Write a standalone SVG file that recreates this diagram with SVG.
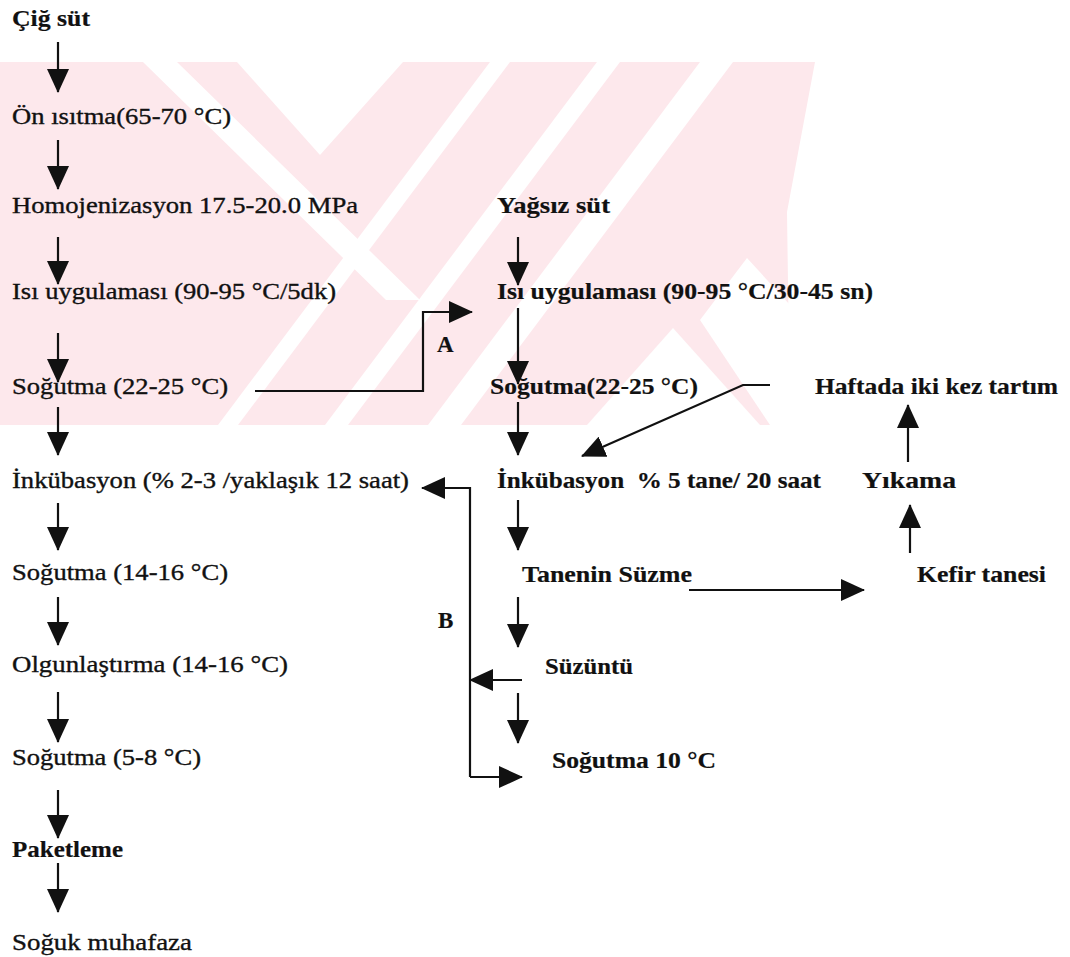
<svg xmlns="http://www.w3.org/2000/svg" width="1070" height="957" viewBox="0 0 1070 957">
<defs>
<style>
.t{font-family:"Liberation Serif","Times New Roman",serif;font-size:23px;fill:#111;stroke:#111;stroke-width:0.35}
.b{font-weight:bold;stroke-width:0.2}
.ln{fill:none;stroke:#111;stroke-width:2.2}
.wm{fill:#fde8ec}
.wh{fill:#ffffff}
</style>
<marker id="ah" markerUnits="userSpaceOnUse" markerWidth="24" markerHeight="22" viewBox="0 0 24 22" refX="23" refY="11" orient="auto">
<path d="M0,0 L24,11 L0,22 z" fill="#111"/>
</marker>
</defs>
<rect width="1070" height="957" fill="#fff"/>
<g id="watermark">
<polygon class="wm" points="0,62 815,62 787,212 790,425 0,425"/>
<polygon class="wh" points="143,62 177,62 420,300 386,300"/>
<polygon class="wh" points="237,62 403,62 320,155"/>
<polygon class="wh" points="490,62 510,62 238,425 218,425"/>
<polygon class="wh" points="597,62 620,62 348,425 325,425"/>
<polygon class="wh" points="700,62 733,62 461,425 428,425"/>
<polygon class="wh" points="673,328 760,425 587,425"/>
<polygon class="wh" points="747,258 790,305 790,425 770,425 700,320"/>
</g>
<g id="connectors">
<line class="ln" x1="58" y1="42" x2="58" y2="92" marker-end="url(#ah)"/>
<line class="ln" x1="58" y1="140" x2="58" y2="189" marker-end="url(#ah)"/>
<line class="ln" x1="58" y1="237" x2="58" y2="284" marker-end="url(#ah)"/>
<line class="ln" x1="58" y1="333" x2="58" y2="382" marker-end="url(#ah)"/>
<line class="ln" x1="58" y1="407" x2="58" y2="455" marker-end="url(#ah)"/>
<line class="ln" x1="58" y1="503" x2="58" y2="550" marker-end="url(#ah)"/>
<line class="ln" x1="58" y1="597" x2="58" y2="645" marker-end="url(#ah)"/>
<line class="ln" x1="58" y1="692" x2="58" y2="742" marker-end="url(#ah)"/>
<line class="ln" x1="58" y1="790" x2="58" y2="838" marker-end="url(#ah)"/>
<line class="ln" x1="58" y1="863" x2="58" y2="912" marker-end="url(#ah)"/>
<polyline class="ln" points="255,391 423,391 423,312 472,312" marker-end="url(#ah)"/>
<line class="ln" x1="518" y1="237" x2="518" y2="285" marker-end="url(#ah)"/>
<line class="ln" x1="518" y1="308" x2="518" y2="384" marker-end="url(#ah)"/>
<line class="ln" x1="518" y1="402" x2="518" y2="455" marker-end="url(#ah)"/>
<line class="ln" x1="518" y1="500" x2="518" y2="550" marker-end="url(#ah)"/>
<line class="ln" x1="518" y1="597" x2="518" y2="647" marker-end="url(#ah)"/>
<line class="ln" x1="518" y1="693" x2="518" y2="743" marker-end="url(#ah)"/>
<polyline class="ln" points="770,385 743,385 582,456" marker-end="url(#ah)"/>
<line class="ln" x1="908" y1="462" x2="908" y2="405" marker-end="url(#ah)"/>
<line class="ln" x1="910" y1="553" x2="910" y2="505" marker-end="url(#ah)"/>
<line class="ln" x1="689" y1="590" x2="864" y2="590" marker-end="url(#ah)"/>
<polyline class="ln" points="470,777 470,488 422,488" marker-end="url(#ah)"/>
<line class="ln" x1="470" y1="777" x2="522" y2="777" marker-end="url(#ah)"/>
<line class="ln" x1="522" y1="680" x2="470" y2="680" marker-end="url(#ah)"/>
</g>
<g id="n-cig"><text class="t b" x="12" y="26" textLength="78" lengthAdjust="spacingAndGlyphs">Çiğ süt</text></g>
<g id="n-on"><text class="t" x="12" y="124" textLength="219" lengthAdjust="spacingAndGlyphs">Ön ısıtma(65-70 °C)</text></g>
<g id="n-homo"><text class="t" x="12" y="213" textLength="346" lengthAdjust="spacingAndGlyphs">Homojenizasyon 17.5-20.0 MPa</text></g>
<g id="n-isi1"><text class="t" x="12" y="299" textLength="324" lengthAdjust="spacingAndGlyphs">Isı uygulaması (90-95 °C/5dk)</text></g>
<g id="n-sog1"><text class="t" x="12" y="394" textLength="216" lengthAdjust="spacingAndGlyphs">Soğutma (22-25 °C)</text></g>
<g id="n-inku1"><text class="t" x="12" y="488" textLength="397" lengthAdjust="spacingAndGlyphs">İnkübasyon (% 2-3 /yaklaşık 12 saat)</text></g>
<g id="n-sog2"><text class="t" x="12" y="580" textLength="216" lengthAdjust="spacingAndGlyphs">Soğutma (14-16 °C)</text></g>
<g id="n-olg"><text class="t" x="12" y="672" textLength="276" lengthAdjust="spacingAndGlyphs">Olgunlaştırma (14-16 °C)</text></g>
<g id="n-sog3"><text class="t" x="12" y="765" textLength="189" lengthAdjust="spacingAndGlyphs">Soğutma (5-8 °C)</text></g>
<g id="n-pak"><text class="t b" x="12" y="857" textLength="111" lengthAdjust="spacingAndGlyphs">Paketleme</text></g>
<g id="n-soguk"><text class="t" x="12" y="950" textLength="180" lengthAdjust="spacingAndGlyphs">Soğuk muhafaza</text></g>
<g id="n-yagsiz"><text class="t b" x="497" y="213" textLength="113" lengthAdjust="spacingAndGlyphs">Yağsız süt</text></g>
<g id="n-isi2"><text class="t b" x="497" y="299" textLength="376" lengthAdjust="spacingAndGlyphs">Isı uygulaması (90-95 °C/30-45 sn)</text></g>
<g id="n-sog4"><text class="t b" x="490" y="394" textLength="208" lengthAdjust="spacingAndGlyphs">Soğutma(22-25 °C)</text></g>
<g id="n-haftada"><text class="t b" x="815" y="394" textLength="243" lengthAdjust="spacingAndGlyphs">Haftada iki kez tartım</text></g>
<g id="n-inku2"><text class="t b" x="497" y="488" textLength="324" lengthAdjust="spacingAndGlyphs" style="white-space:pre">İnkübasyon  % 5 tane/ 20 saat</text></g>
<g id="n-yikama"><text class="t b" x="862" y="488" textLength="94" lengthAdjust="spacingAndGlyphs">Yıkama</text></g>
<g id="n-tanenin"><text class="t b" x="522" y="582" textLength="170" lengthAdjust="spacingAndGlyphs">Tanenin Süzme</text></g>
<g id="n-kefir"><text class="t b" x="917" y="582" textLength="129" lengthAdjust="spacingAndGlyphs">Kefir tanesi</text></g>
<g id="n-suzuntu"><text class="t b" x="545" y="674" textLength="88" lengthAdjust="spacingAndGlyphs">Süzüntü</text></g>
<g id="n-sog10"><text class="t b" x="552" y="768" textLength="164" lengthAdjust="spacingAndGlyphs">Soğutma 10 °C</text></g>
<g id="lbl-a"><text class="t b" x="437" y="352">A</text></g>
<g id="lbl-b"><text class="t b" x="438" y="628">B</text></g>
</svg>
